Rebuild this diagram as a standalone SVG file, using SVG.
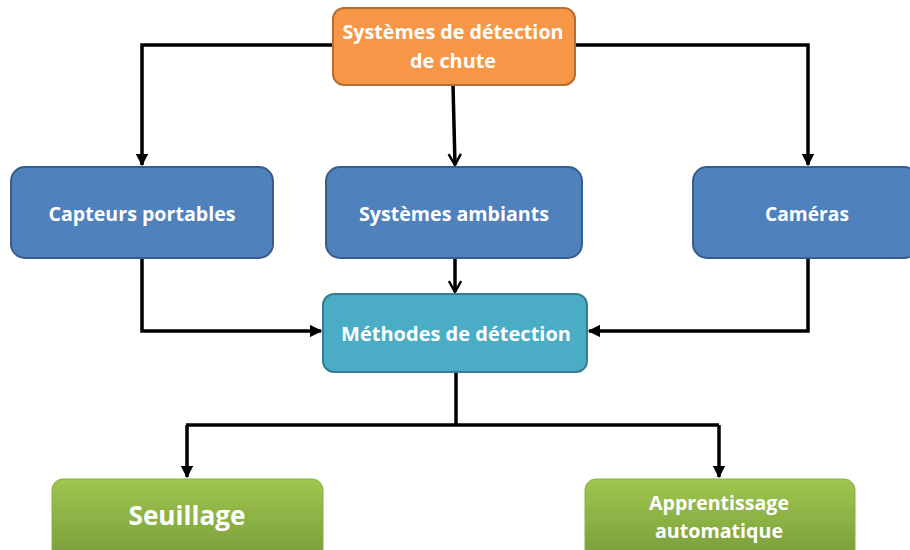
<svg xmlns="http://www.w3.org/2000/svg" width="910" height="550" viewBox="0 0 910 550">
<defs>
<linearGradient id="gGreen" x1="0" y1="0" x2="0" y2="1">
<stop offset="0" stop-color="#9fc64f"/>
<stop offset="1" stop-color="#779a39"/>
</linearGradient>
<marker id="tri" viewBox="0 0 10 10" refX="9" refY="5" markerWidth="3.6" markerHeight="3.6" orient="auto" markerUnits="strokeWidth">
<path d="M0,0 L10,5 L0,10 z" fill="#000"/>
</marker>
<marker id="vee" viewBox="0 0 12 12" refX="10" refY="6" markerWidth="4.2" markerHeight="4.2" orient="auto" markerUnits="strokeWidth">
<path d="M1,1 L10,6 L1,11" fill="none" stroke="#000" stroke-width="2"/>
</marker>
<style>
.lbl{font-family:"Open Sans","Liberation Sans",sans-serif;font-weight:bold;fill:#fff;text-anchor:middle;font-size:19px}
.orange{fill:#f79646;stroke:#b66d31;stroke-width:2}
.blue{fill:#4f81bd;stroke:#385d8a;stroke-width:2}
.teal{fill:#4bacc6;stroke:#357d91;stroke-width:2}
.green{fill:url(#gGreen);stroke:#8aaf46;stroke-width:1}
.conn{fill:none;stroke:#000;stroke-width:3.5}
</style>
</defs>
<g id="connectors">
<path class="conn" d="M333,45 H142 V165" marker-end="url(#tri)"/>
<path class="conn" d="M575,45 H808 V165" marker-end="url(#tri)"/>
<path class="conn" d="M453,85 L455,165" marker-end="url(#vee)"/>
<path class="conn" d="M455,258 V292" marker-end="url(#vee)"/>
<path class="conn" d="M142,258 V331 H321" marker-end="url(#tri)"/>
<path class="conn" d="M808,258 V331 H589" marker-end="url(#tri)"/>
<path class="conn" d="M456,372 V425"/>
<path class="conn" d="M186,425 H719"/>
<path class="conn" d="M187,425 V477" marker-end="url(#tri)"/>
<path class="conn" d="M719,425 V477" marker-end="url(#tri)"/>
</g>
<g id="n-root">
<rect class="orange" x="333" y="8" width="242" height="77" rx="11"/>
<text class="lbl" x="453" y="39" textLength="221" lengthAdjust="spacingAndGlyphs">Systèmes de détection</text>
<text class="lbl" x="453" y="68" textLength="86" lengthAdjust="spacingAndGlyphs">de chute</text>
</g>
<g id="n-capteurs">
<rect class="blue" x="11" y="167" width="262" height="91" rx="14"/>
<text class="lbl" x="142" y="221" textLength="187" lengthAdjust="spacingAndGlyphs">Capteurs portables</text>
</g>
<g id="n-ambiants">
<rect class="blue" x="326" y="167" width="256" height="91" rx="14"/>
<text class="lbl" x="454" y="221" textLength="190" lengthAdjust="spacingAndGlyphs">Systèmes ambiants</text>
</g>
<g id="n-cameras">
<rect class="blue" x="693" y="167" width="225" height="91" rx="14"/>
<text class="lbl" x="807" y="221" textLength="84" lengthAdjust="spacingAndGlyphs">Caméras</text>
</g>
<g id="n-methodes">
<rect class="teal" x="323" y="294" width="264" height="78" rx="11"/>
<text class="lbl" x="456" y="341" textLength="230" lengthAdjust="spacingAndGlyphs">Méthodes de détection</text>
</g>
<g id="n-seuillage">
<rect class="green" x="52" y="479" width="271" height="85" rx="11"/>
<text class="lbl" x="187" y="525" style="font-size:27px" textLength="117" lengthAdjust="spacingAndGlyphs">Seuillage</text>
</g>
<g id="n-apprentissage">
<rect class="green" x="585" y="479" width="270" height="85" rx="11"/>
<text class="lbl" x="719" y="510" textLength="140" lengthAdjust="spacingAndGlyphs">Apprentissage</text>
<text class="lbl" x="719" y="538" textLength="128" lengthAdjust="spacingAndGlyphs">automatique</text>
</g>
</svg>
